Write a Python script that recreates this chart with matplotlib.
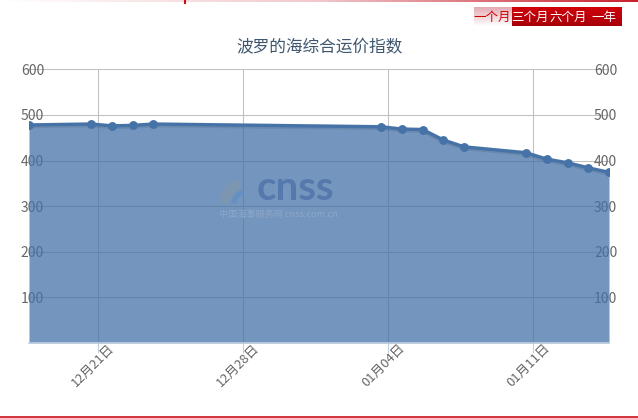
import matplotlib
matplotlib.use("Agg")
import matplotlib.pyplot as plt
import matplotlib.dates as mdates
import matplotlib.transforms as mtransforms
from matplotlib.patches import Wedge
from matplotlib.colors import LinearSegmentedColormap
import numpy as np
import pandas as pd

plt.rcParams['font.family'] = ['Noto Sans CJK SC', 'DejaVu Sans']

# ---------------- data ----------------
title = "波罗的海综合运价指数"
dates = ['2020-12-18', '2020-12-21', '2020-12-22', '2020-12-23', '2020-12-24',
         '2021-01-04', '2021-01-05', '2021-01-06', '2021-01-07', '2021-01-08',
         '2021-01-11', '2021-01-12', '2021-01-13', '2021-01-14', '2021-01-15']
values = [478, 480, 476, 477, 480,
          474, 469, 468, 445, 430,
          417, 403, 395, 384, 374]
tick_dates = ['2020-12-21', '2020-12-28', '2021-01-04', '2021-01-11']
tick_labels = ['12月21日', '12月28日', '01月04日', '01月11日']
y_ticks = [100, 200, 300, 400, 500, 600]
buttons = ['一个月', '三个月', '六个月', '一年']

W, H = 638, 418
fig = plt.figure(figsize=(W / 100, H / 100), dpi=100)
fig.patch.set_facecolor('white')

# points are stored at local midnight (UTC+8) -> shown 8h before UTC midnight ticks
x = mdates.date2num(pd.to_datetime(dates) - pd.Timedelta(hours=8))
xt = mdates.date2num(pd.to_datetime(tick_dates))

L, R, T, B = 29, 609, 69.3, 343
ax = fig.add_axes([L / W, 1 - B / H, (R - L) / W, (B - T) / H])
ax.set_facecolor('none')
ax.set_axisbelow(True)

line_c = '#4572A7'
ax.fill_between(x, values, 0, color=line_c, alpha=0.75, lw=0, zorder=2)
# soft shadow
ax.plot(x, np.array(values) - 1.5, color='black', alpha=0.08, lw=3.8, zorder=2.5,
        solid_capstyle='round')
ax.plot(x, values, color=line_c, lw=2.4, zorder=3, solid_joinstyle='round')
ax.plot(x, values, 'o', color=line_c, ms=6.4, mew=0, zorder=4)

ax.set_xlim(x[0], x[-1])
ax.set_ylim(0, 600)

ax.set_yticks(y_ticks)
ax.set_yticklabels([str(v) for v in y_ticks])
ax.tick_params(axis='y', length=0, pad=-15 * 0.72, labelright=True,
               labelsize=10, labelcolor='#666666')
ax.yaxis.grid(True, color='#C0C0C0', lw=0.75)

ax.set_xticks(xt)
ax.set_xticklabels(tick_labels)
ax.xaxis.grid(True, color='#C0C0C0', lw=0.75)
ax.tick_params(axis='x', length=10 * 0.72, width=0.75, color='#C0D0E0',
               direction='out', pad=-6.5 * 0.72, labelsize=9.3, labelcolor='#666666')
offset = mtransforms.ScaledTranslation(14.5 / 100, 0, fig.dpi_scale_trans)
for lab in ax.get_xticklabels():
    lab.set_rotation(45)
    lab.set_ha('right')
    lab.set_va('center')
    lab.set_rotation_mode('anchor')
    lab.set_transform(lab.get_transform() + offset)

for s in ['top', 'left', 'right']:
    ax.spines[s].set_visible(False)
ax.spines['bottom'].set_color('#C0D0E0')
ax.spines['bottom'].set_linewidth(1.2)
ax.spines['bottom'].set_zorder(5)

# ---------------- overlay (pixel coordinates, y downwards) ----------------
ov = fig.add_axes([0, 0, 1, 1], zorder=10)
ov.axis('off')
ov.patch.set_alpha(0)
ov.set_xlim(0, W)
ov.set_ylim(H, 0)

# title
ov.text(319, 48, title, ha='center', va='center', fontsize=12, color='#3E576F')

# top gradient line
grad = np.linspace(0, 1, 256)[None, :]
cm_top = LinearSegmentedColormap.from_list('top', ['#FFFFFF', '#F0C8CC', '#C8202C'])
ov.imshow(grad, extent=(0, W, 2.2, 0), cmap=cm_top, aspect='auto', zorder=1)
ov.plot([185, 185], [0, 3], color='#D01010', lw=1.5)

# bottom red line
ov.plot([0, W], [416.5, 416.5], color='#C8101A', lw=1.2)

# buttons
bx = [474, 511.7, 549.7, 587.7, 621]
cm_light = LinearSegmentedColormap.from_list('lt', ['#E6A9B2', '#FFFFFF'])
cm_dark = LinearSegmentedColormap.from_list('dk', ['#D0000A', '#A8000A'])
vgrad = np.linspace(0, 1, 64)[:, None]
for i, txt in enumerate(buttons):
    x0, x1 = bx[i], bx[i + 1] - (0.6 if i < 3 else 0)
    cmap = cm_light if i == 0 else cm_dark
    col = '#CC0000' if i == 0 else 'white'
    ov.imshow(vgrad, extent=(x0, x1, 26, 7.3), cmap=cmap, aspect='auto',
              origin='upper', zorder=2)
    ov.text((x0 + x1) / 2, 17, txt, ha='center', va='center', fontsize=9,
            color=col, zorder=3)

# watermark (angles are mirrored because the y axis points down)
ov.add_patch(Wedge((247, 205), 28, 185, 250, width=11, color='#8498A6', alpha=0.5, lw=0))
ov.add_patch(Wedge((247, 205), 16, 185, 250, width=5, color='#5A8CCB', alpha=0.55, lw=0))
ov.set_xlim(0, W)
ov.set_ylim(H, 0)
ov.text(295, 199.5, 'cnss', ha='center', va='baseline', fontsize=29, fontweight='bold',
        family=['Lato', 'DejaVu Sans'], color='#5275AC', alpha=0.9)
ov.text(278, 214, '中国海事服务网 cnss.com.cn', ha='center', va='center', fontsize=6.6,
        color='#8DA7C9')

fig.savefig('out.png', dpi=100)
